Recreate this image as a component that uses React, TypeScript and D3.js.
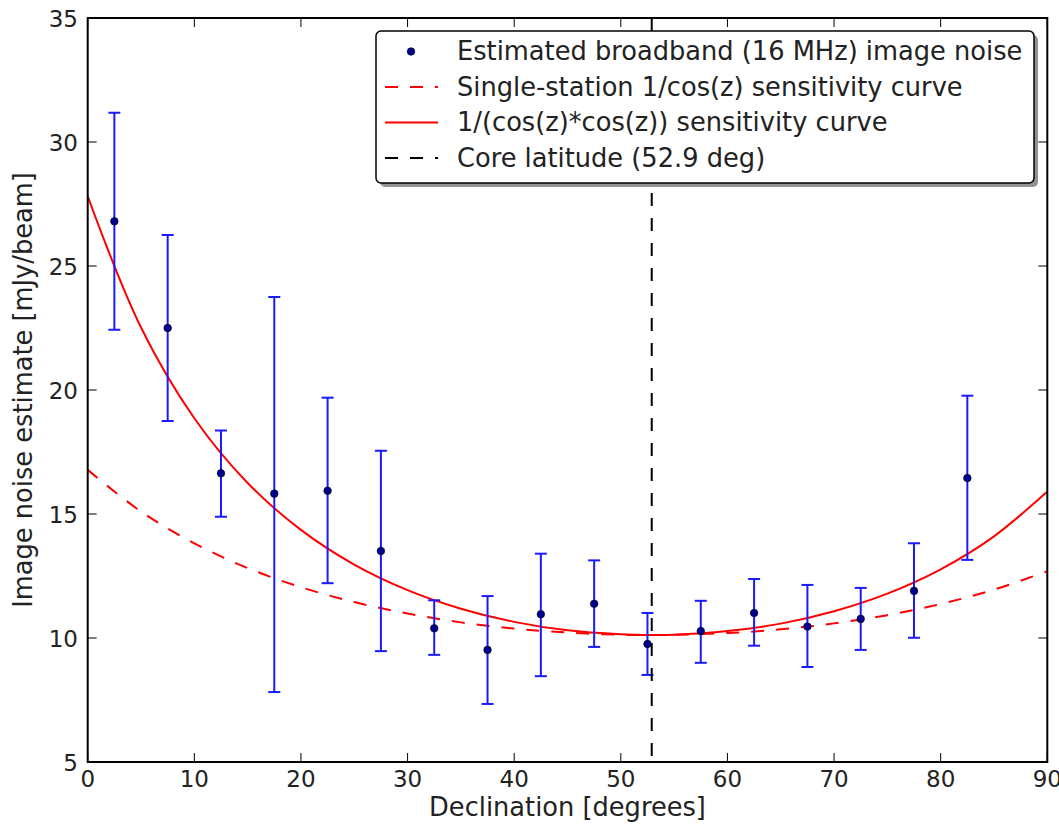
import React from "react";
import * as d3 from "d3";

const declination = [2.5, 7.5, 12.5, 17.5, 22.5, 27.5, 32.5, 37.5, 42.5, 47.5, 52.5, 57.5, 62.5, 67.5, 72.5, 77.5, 82.5];
const noise = [26.8, 22.5, 16.64, 15.82, 15.94, 13.51, 10.39, 9.52, 10.96, 11.38, 9.76, 10.28, 11.01, 10.46, 10.77, 11.9, 16.45];
const errLow = [22.43, 18.75, 14.89, 7.82, 12.21, 9.47, 9.32, 7.34, 8.46, 9.64, 8.51, 9.0, 9.69, 8.83, 9.52, 10.01, 13.15];
const errHigh = [31.18, 26.25, 18.37, 23.75, 19.69, 17.55, 11.52, 11.69, 13.4, 13.13, 11.01, 11.5, 12.38, 12.14, 12.02, 13.82, 19.77];

const curveDec = [0, 5, 10, 15, 20, 25, 30, 35, 40, 45, 50, 52.9, 55, 60, 65, 70, 75, 80, 85, 90];
const singleStation = [16.78, 15.1, 13.82, 12.82, 12.05, 11.45, 10.99, 10.63, 10.38, 10.22, 10.13, 10.12, 10.13, 10.2, 10.35, 10.59, 10.92, 11.37, 11.95, 12.69];
const doubleCos = [27.81, 22.52, 18.86, 16.25, 14.36, 12.96, 11.93, 11.18, 10.65, 10.31, 10.15, 10.12, 10.13, 10.28, 10.58, 11.08, 11.79, 12.77, 14.1, 15.91];

const coreLatitude = 52.9;
const xTicks = [0, 10, 20, 30, 40, 50, 60, 70, 80, 90];
const yTicks = [5, 10, 15, 20, 25, 30, 35];

const legendLabels = [
  "Estimated broadband (16 MHz) image noise",
  "Single-station 1/cos(z) sensitivity curve",
  "1/(cos(z)*cos(z)) sensitivity curve",
  "Core latitude (52.9 deg)",
];

const W = 1059;
const H = 824;
const L = 87.7, R = 1047.3, T = 18, B = 762;
const FONT = "DejaVu Sans, sans-serif";

export default function App() {
  const x = d3.scaleLinear().domain([0, 90]).range([L, R]);
  const y = d3.scaleLinear().domain([5, 35]).range([B, T]);
  const line = d3
    .line<[number, number]>()
    .x((d) => x(d[0]))
    .y((d) => y(d[1]))
    .curve(d3.curveCatmullRom.alpha(0.5));
  const ssPath = line(curveDec.map((d, i) => [d, singleStation[i]]) as [number, number][]) || "";
  const dcPath = line(curveDec.map((d, i) => [d, doubleCos[i]]) as [number, number][]) || "";
  const tickLen = 9;
  const dash = "13,12";
  const blue = "#1a1aff";
  const legX = 376, legY = 31, legW = 658, legH = 152;
  const rowY = [51.5, 87, 122.5, 158];
  const labelSize = 25.7;

  return (
    <svg width={W} height={H} style={{ position: "absolute", left: 0, top: 0 }} fontFamily={FONT}>
      <rect x={0} y={0} width={W} height={H} fill="#fff" />
      <defs>
        <clipPath id="plotclip">
          <rect x={L} y={T} width={R - L} height={B - T} />
        </clipPath>
      </defs>
      <g clipPath="url(#plotclip)">
        <path d={ssPath} fill="none" stroke="#ff0000" strokeWidth={2} strokeDasharray={dash} />
        <path d={dcPath} fill="none" stroke="#ff0000" strokeWidth={2} />
        {declination.map((d, i) => (
          <g key={"e" + i} stroke={blue} strokeWidth={2}>
            <line x1={x(d)} x2={x(d)} y1={y(errLow[i])} y2={y(errHigh[i])} />
            <line x1={x(d) - 6} x2={x(d) + 6} y1={y(errLow[i])} y2={y(errLow[i])} />
            <line x1={x(d) - 6} x2={x(d) + 6} y1={y(errHigh[i])} y2={y(errHigh[i])} />
          </g>
        ))}
        {declination.map((d, i) => (
          <circle key={"p" + i} cx={x(d)} cy={y(noise[i])} r={3.8} fill="#000090" stroke="#000" strokeWidth={0.6} />
        ))}
        <line x1={x(coreLatitude)} x2={x(coreLatitude)} y1={T} y2={B} stroke="#000" strokeWidth={2} strokeDasharray={dash} />
      </g>
      {/* axes frame */}
      <rect x={L} y={T} width={R - L} height={B - T} fill="none" stroke="#000" strokeWidth={2} />
      {xTicks.map((t) => (
        <g key={"xt" + t}>
          <line x1={x(t)} x2={x(t)} y1={B} y2={B - tickLen} stroke="#000" strokeWidth={1} />
          <line x1={x(t)} x2={x(t)} y1={T} y2={T + tickLen} stroke="#000" strokeWidth={1} />
          <text x={x(t)} y={787} textAnchor="middle" fontSize={23} fill="#222">
            {t}
          </text>
        </g>
      ))}
      {yTicks.map((t) => (
        <g key={"yt" + t}>
          <line x1={L} x2={L + tickLen} y1={y(t)} y2={y(t)} stroke="#000" strokeWidth={1} />
          <line x1={R} x2={R - tickLen} y1={y(t)} y2={y(t)} stroke="#000" strokeWidth={1} />
          <text x={78} y={y(t) + 8.5} textAnchor="end" fontSize={23} fill="#222">
            {t}
          </text>
        </g>
      ))}
      <text x={(L + R) / 2} y={816} textAnchor="middle" fontSize={labelSize} fill="#222">
        Declination [degrees]
      </text>
      <text transform={`translate(32,${(T + B) / 2}) rotate(-90)`} textAnchor="middle" fontSize={labelSize} fill="#222">
        Image noise estimate [mJy/beam]
      </text>
      {/* legend */}
      <rect x={legX + 4} y={legY + 4} width={legW} height={legH} rx={5} fill="#777" opacity={0.8} />
      <rect x={legX} y={legY} width={legW} height={legH} rx={5} fill="#fff" stroke="#000" strokeWidth={1.5} />
      <circle cx={411} cy={rowY[0]} r={3.8} fill="#000090" stroke="#000" strokeWidth={0.6} />
      <line x1={385} x2={438} y1={rowY[1]} y2={rowY[1]} stroke="#ff0000" strokeWidth={2} strokeDasharray={dash} />
      <line x1={385} x2={438} y1={rowY[2]} y2={rowY[2]} stroke="#ff0000" strokeWidth={2} />
      <line x1={385} x2={438} y1={rowY[3]} y2={rowY[3]} stroke="#000" strokeWidth={2} strokeDasharray={dash} />
      {legendLabels.map((s, i) => (
        <text key={"lg" + i} x={457} y={rowY[i] + 8.5} fontSize={labelSize} fill="#222">
          {s}
        </text>
      ))}
    </svg>
  );
}
